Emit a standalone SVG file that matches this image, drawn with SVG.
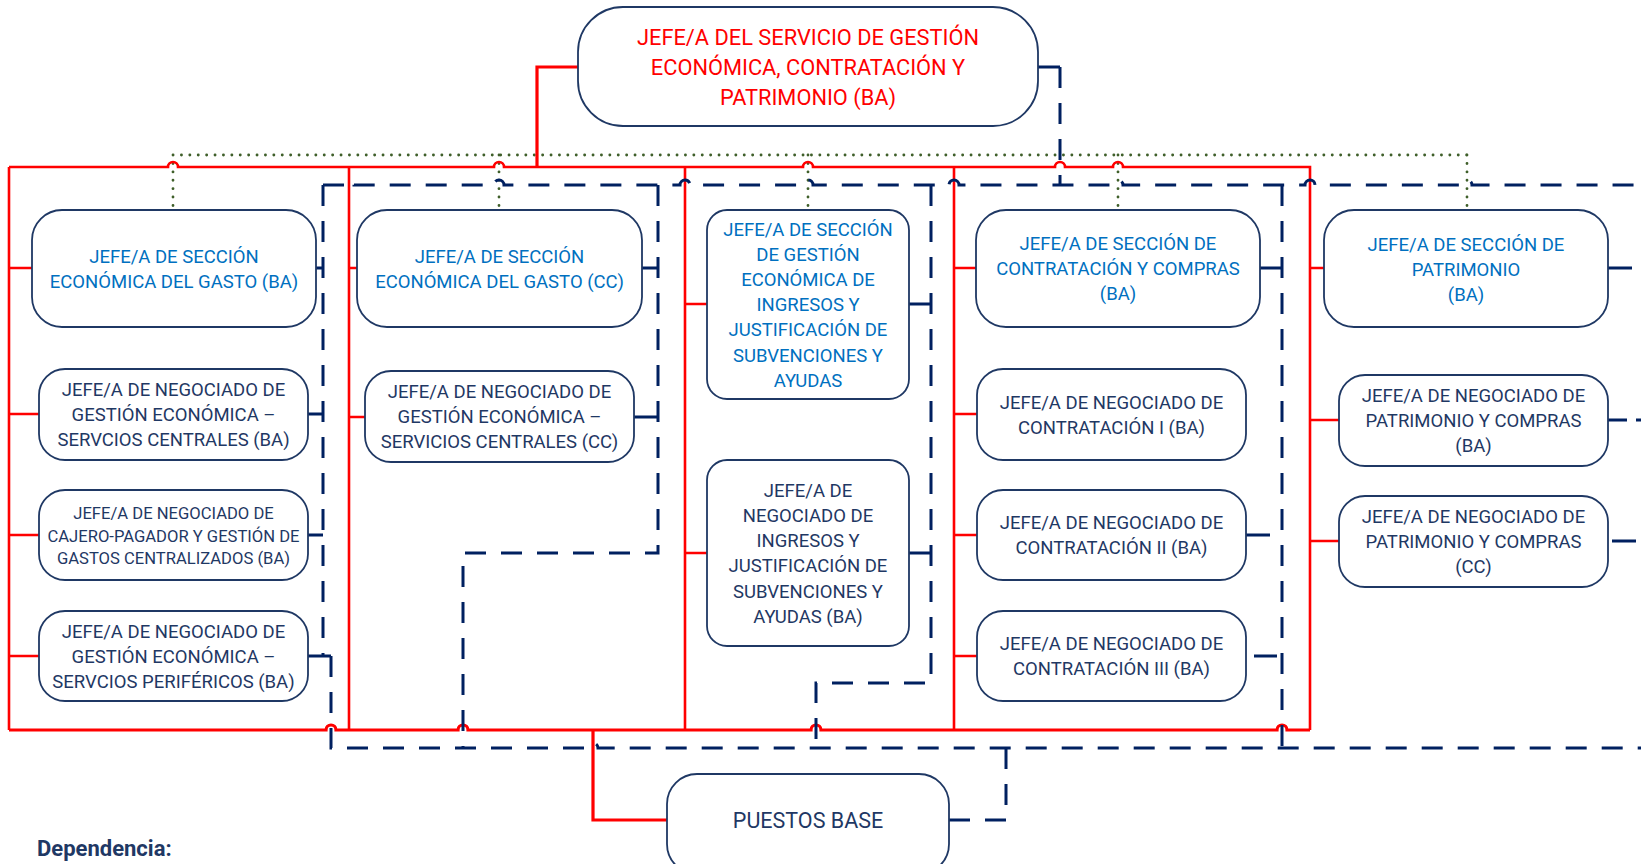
<svg xmlns="http://www.w3.org/2000/svg" width="1641" height="864" viewBox="0 0 1641 864">
<style>
  .box{fill:#fff;stroke:#1F3864;stroke-width:1.8}
  text{font-family:Roboto,"Liberation Sans",sans-serif;text-anchor:middle}
  .head{fill:#FF0000;font-size:21.8px}
  .sec{fill:#0070C0;font-size:18.5px}
  .neg{fill:#1F3864;font-size:18.5px}
  .sm{font-size:16.6px}
  .base{fill:#1F3864;font-size:21.5px}
  .legend{fill:#1F3864;font-size:22px;font-weight:bold;text-anchor:start}
  .red{fill:none;stroke:#FF0000;stroke-width:2.6}
  .red-main{fill:none;stroke:#FF0000;stroke-width:3.2}
  .dash{fill:none;stroke:#002060;stroke-width:3;stroke-dasharray:21 15}
  .stub{fill:none;stroke:#002060;stroke-width:3}
  .dot{fill:none;stroke:#3F5F2A;stroke-width:2.8;stroke-linecap:round;stroke-dasharray:0.1 8.3}
</style>
<rect width="1641" height="864" fill="#fff"/>

<g id="connectors">
  <!-- dotted functional links -->
  <path class="dot" d="M173,155 H1467 M173,155 V210 M499,155 V210 M808,155 V210 M1118,155 V210 M1467,155 V210"/>

  <!-- solid hierarchy (red) -->
  <path class="red-main" d="M578,67 H537 V167"/>
  <path class="red" d="M9,167 V730"/>
  <path class="red" d="M9,167 H168 A5,5 0 0 1 178,167 H494 A5,5 0 0 1 504,167 H803 A5,5 0 0 1 813,167 H1055 A5,5 0 0 1 1065,167 H1113 A5,5 0 0 1 1123,167 H1310 V730"/>
  <path class="red-main" d="M9,730 H326 A5,5 0 0 1 336,730 H458 A5,5 0 0 1 468,730 H811 A5,5 0 0 1 821,730 H1277 A5,5 0 0 1 1287,730 H1310"/>
  <path class="red" d="M349,167 V730 M685,167 V730 M954,167 V730"/>
  <path class="red" d="M9,268 H32 M9,414 H39 M9,535 H39 M9,656 H39
                       M349,268 H357 M349,417 H365
                       M685,304 H707 M685,553 H707
                       M954,268 H976 M954,414 H977 M954,535 H977 M954,656 H977
                       M1310,268 H1324 M1310,420 H1339 M1310,541 H1339"/>
  <path class="red-main" d="M593,730 V820 H667"/>

  <!-- dashed links (navy) -->
  <path class="dash" d="M1060,67 V185"/>
  <path class="dash" d="M323,185 H344 A5,5 0 0 1 354,185 H494 A5,5 0 0 1 504,185 H680 A5,5 0 0 1 690,185 H803 A5,5 0 0 1 813,185 H949 A5,5 0 0 1 959,185 H1113 A5,5 0 0 1 1123,185 H1305 A5,5 0 0 1 1315,185 H1462 A5,5 0 0 1 1472,185 H1641"/>
  <path class="dash" d="M323,185 V656"/>
  <path class="dash" d="M331,656 V748 H588 A5,5 0 0 1 598,748 H1641"/>
  <path class="dash" d="M658,185 V553 H463 V748"/>
  <path class="dash" d="M931,185 V683 H816 V748"/>
  <path class="dash" d="M1282,185 V748"/>
  <path class="dash" d="M949,820 H1006 V748"/>

  <!-- short solid stubs from boxes -->
  <path class="stub" d="M1038,67 H1060
                        M316,268 H323 M308,414 H323 M308,535 H323 M308,656 H331
                        M642,268 H658 M634,417 H658
                        M909,304 H931 M909,553 H931
                        M1260,268 H1282 M1246,535 H1270 M1254,656 H1277
                        M1608,268 H1632 M1608,420 H1627 M1636,420 H1641 M1612,541 H1636"/>
</g>

<g id="n-jefe-servicio">
  <rect class="box" x="578" y="7" width="460" height="119" rx="45"/>
  <text class="head"><tspan x="808" y="45">JEFE/A DEL SERVICIO DE GESTIÓN</tspan><tspan x="808" y="75">ECONÓMICA, CONTRATACIÓN Y</tspan><tspan x="808" y="105">PATRIMONIO (BA)</tspan></text>
</g>

<g id="n-seccion-gasto-ba">
  <rect class="box" x="32" y="210" width="284" height="117" rx="30"/>
  <text class="sec"><tspan x="174" y="263">JEFE/A DE SECCIÓN</tspan><tspan x="174" y="288">ECONÓMICA DEL GASTO (BA)</tspan></text>
</g>
<g id="n-neg-centrales-ba">
  <rect class="box" x="39" y="369" width="269" height="91" rx="26"/>
  <text class="neg"><tspan x="173.5" y="396">JEFE/A DE NEGOCIADO DE</tspan><tspan x="173.5" y="421">GESTIÓN ECONÓMICA –</tspan><tspan x="173.5" y="446">SERVCIOS CENTRALES (BA)</tspan></text>
</g>
<g id="n-neg-cajero-ba">
  <rect class="box" x="39" y="490" width="269" height="90" rx="26"/>
  <text class="neg sm"><tspan x="173.5" y="519">JEFE/A DE NEGOCIADO DE</tspan><tspan x="173.5" y="541.5">CAJERO-PAGADOR Y GESTIÓN DE</tspan><tspan x="173.5" y="564">GASTOS CENTRALIZADOS (BA)</tspan></text>
</g>
<g id="n-neg-perifericos-ba">
  <rect class="box" x="39" y="611" width="269" height="90" rx="26"/>
  <text class="neg"><tspan x="173.5" y="637.5">JEFE/A DE NEGOCIADO DE</tspan><tspan x="173.5" y="662.5">GESTIÓN ECONÓMICA –</tspan><tspan x="173.5" y="687.5">SERVCIOS PERIFÉRICOS (BA)</tspan></text>
</g>

<g id="n-seccion-gasto-cc">
  <rect class="box" x="357" y="210" width="285" height="117" rx="30"/>
  <text class="sec"><tspan x="499.5" y="263">JEFE/A DE SECCIÓN</tspan><tspan x="499.5" y="288">ECONÓMICA DEL GASTO (CC)</tspan></text>
</g>
<g id="n-neg-centrales-cc">
  <rect class="box" x="365" y="371" width="269" height="91" rx="26"/>
  <text class="neg"><tspan x="499.5" y="398">JEFE/A DE NEGOCIADO DE</tspan><tspan x="499.5" y="423">GESTIÓN ECONÓMICA –</tspan><tspan x="499.5" y="448">SERVICIOS CENTRALES (CC)</tspan></text>
</g>

<g id="n-seccion-ingresos">
  <rect class="box" x="707" y="210" width="202" height="189" rx="20"/>
  <text class="sec"><tspan x="808" y="235.5">JEFE/A DE SECCIÓN</tspan><tspan x="808" y="260.7">DE GESTIÓN</tspan><tspan x="808" y="285.9">ECONÓMICA DE</tspan><tspan x="808" y="311.1">INGRESOS Y</tspan><tspan x="808" y="336.3">JUSTIFICACIÓN DE</tspan><tspan x="808" y="361.5">SUBVENCIONES Y</tspan><tspan x="808" y="386.7">AYUDAS</tspan></text>
</g>
<g id="n-neg-ingresos">
  <rect class="box" x="707" y="460" width="202" height="186" rx="20"/>
  <text class="neg"><tspan x="808" y="496.8">JEFE/A DE</tspan><tspan x="808" y="522">NEGOCIADO DE</tspan><tspan x="808" y="547.2">INGRESOS Y</tspan><tspan x="808" y="572.4">JUSTIFICACIÓN DE</tspan><tspan x="808" y="597.6">SUBVENCIONES Y</tspan><tspan x="808" y="622.8">AYUDAS (BA)</tspan></text>
</g>

<g id="n-seccion-contratacion">
  <rect class="box" x="976" y="210" width="284" height="117" rx="30"/>
  <text class="sec"><tspan x="1118" y="250">JEFE/A DE SECCIÓN DE</tspan><tspan x="1118" y="275">CONTRATACIÓN Y COMPRAS</tspan><tspan x="1118" y="300">(BA)</tspan></text>
</g>
<g id="n-neg-contratacion-1">
  <rect class="box" x="977" y="369" width="269" height="91" rx="26"/>
  <text class="neg"><tspan x="1111.5" y="408.6">JEFE/A DE NEGOCIADO DE</tspan><tspan x="1111.5" y="433.6">CONTRATACIÓN I (BA)</tspan></text>
</g>
<g id="n-neg-contratacion-2">
  <rect class="box" x="977" y="490" width="269" height="90" rx="26"/>
  <text class="neg"><tspan x="1111.5" y="529">JEFE/A DE NEGOCIADO DE</tspan><tspan x="1111.5" y="554">CONTRATACIÓN II (BA)</tspan></text>
</g>
<g id="n-neg-contratacion-3">
  <rect class="box" x="977" y="611" width="269" height="90" rx="26"/>
  <text class="neg"><tspan x="1111.5" y="650">JEFE/A DE NEGOCIADO DE</tspan><tspan x="1111.5" y="675">CONTRATACIÓN III (BA)</tspan></text>
</g>

<g id="n-seccion-patrimonio">
  <rect class="box" x="1324" y="210" width="284" height="117" rx="30"/>
  <text class="sec"><tspan x="1466" y="250.5">JEFE/A DE SECCIÓN DE</tspan><tspan x="1466" y="275.5">PATRIMONIO</tspan><tspan x="1466" y="300.5">(BA)</tspan></text>
</g>
<g id="n-neg-patrimonio-ba">
  <rect class="box" x="1339" y="375" width="269" height="91" rx="26"/>
  <text class="neg"><tspan x="1473.5" y="402">JEFE/A DE NEGOCIADO DE</tspan><tspan x="1473.5" y="427">PATRIMONIO Y COMPRAS</tspan><tspan x="1473.5" y="452">(BA)</tspan></text>
</g>
<g id="n-neg-patrimonio-cc">
  <rect class="box" x="1339" y="496" width="269" height="91" rx="26"/>
  <text class="neg"><tspan x="1473.5" y="523">JEFE/A DE NEGOCIADO DE</tspan><tspan x="1473.5" y="548">PATRIMONIO Y COMPRAS</tspan><tspan x="1473.5" y="573">(CC)</tspan></text>
</g>

<g id="n-puestos-base">
  <rect class="box" x="667" y="774" width="282" height="100" rx="30"/>
  <text class="base" x="808" y="827.6">PUESTOS BASE</text>
</g>

<g id="legend">
  <text class="legend" x="37" y="856">Dependencia:</text>
</g>
</svg>
